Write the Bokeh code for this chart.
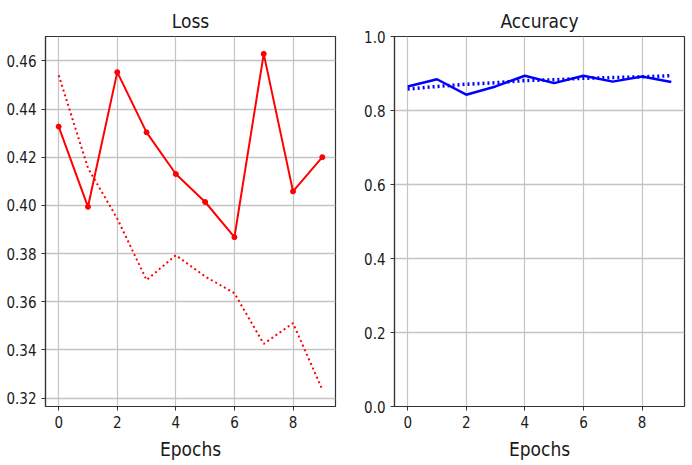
from bokeh.plotting import figure
from bokeh.layouts import row
from bokeh.models import Range1d, FixedTicker
from bokeh.embed import file_html
from bokeh.resources import INLINE

# ---- data ----
epochs = [0, 1, 2, 3, 4, 5, 6, 7, 8, 9]
loss_solid = [0.4327, 0.3994, 0.4553, 0.4303, 0.4130, 0.4014, 0.3868, 0.4629, 0.4058, 0.4200]
loss_dotted = [0.4540, 0.4155, 0.3945, 0.3690, 0.3793, 0.3705, 0.3635, 0.3425, 0.3511, 0.3235]
acc_solid = [0.865, 0.8845, 0.8427, 0.865, 0.894, 0.874, 0.894, 0.878, 0.892, 0.877]
acc_dotted = [0.858, 0.865, 0.871, 0.875, 0.881, 0.883, 0.887, 0.889, 0.891, 0.894]

x_ticks = [0, 2, 4, 6, 8]
x_tick_labels = ["0", "2", "4", "6", "8"]
loss_yticks = [0.32, 0.34, 0.36, 0.38, 0.40, 0.42, 0.44, 0.46]
loss_ytick_labels = ["0.32", "0.34", "0.36", "0.38", "0.40", "0.42", "0.44", "0.46"]
acc_yticks = [0.0, 0.2, 0.4, 0.6, 0.8, 1.0]
acc_ytick_labels = ["0.0", "0.2", "0.4", "0.6", "0.8", "1.0"]

titles = ["Loss", "Accuracy"]
xlabel = "Epochs"

FONT = "'DejaVu Sans Condensed', 'Liberation Sans', sans-serif"
TEXT = "#1a1a1a"


def style(p, title, yticks, ylabels):
    p.title.text = title
    p.title.text_font = FONT
    p.title.text_font_size = "19px"
    p.title.text_font_style = "normal"
    p.title.text_color = TEXT
    p.title.align = "center"
    p.title.standoff = 9
    p.outline_line_color = "#333333"
    p.outline_line_width = 1.2
    for ax in (p.xaxis[0], p.yaxis[0]):
        ax.major_label_text_font = FONT
        ax.major_label_text_font_size = "15px"
        ax.major_label_text_color = TEXT
        ax.major_tick_in = 0
        ax.major_tick_out = 4
        ax.major_tick_line_color = "#333333"
        ax.minor_tick_line_color = None
        ax.axis_line_color = "#333333"
        ax.axis_line_width = 1.2
        ax.major_label_standoff = 5
    p.xaxis[0].ticker = FixedTicker(ticks=x_ticks)
    p.xaxis[0].major_label_overrides = {t: l for t, l in zip(x_ticks, x_tick_labels)}
    p.yaxis[0].ticker = FixedTicker(ticks=yticks)
    p.yaxis[0].major_label_overrides = {t: l for t, l in zip(yticks, ylabels)}
    p.xaxis[0].axis_label = xlabel
    p.xaxis[0].axis_label_text_font = FONT
    p.xaxis[0].axis_label_text_font_size = "19px"
    p.xaxis[0].axis_label_text_font_style = "normal"
    p.xaxis[0].axis_label_text_color = TEXT
    p.xaxis[0].axis_label_standoff = 7
    p.xgrid.grid_line_color = "#c4c4c4"
    p.xgrid.grid_line_width = 1.2
    p.ygrid.grid_line_color = "#c4c4c4"
    p.ygrid.grid_line_width = 1.5
    p.xgrid.ticker = FixedTicker(ticks=x_ticks)
    p.ygrid.ticker = FixedTicker(ticks=yticks)
    p.background_fill_color = "white"
    p.border_fill_color = "white"


p1 = figure(width=345, height=462, output_backend="svg", toolbar_location=None,
            x_range=Range1d(-0.45, 9.45), y_range=Range1d(0.3165, 0.4701),
            min_border_left=45, min_border_right=10, min_border_top=36, min_border_bottom=56)
style(p1, titles[0], loss_yticks, loss_ytick_labels)
p1.line(epochs, loss_dotted, line_color="#ff0000", line_width=2, line_dash="2 3")
p1.line(epochs, loss_solid, line_color="#ff0000", line_width=2)
p1.scatter(epochs, loss_solid, size=5, marker="circle", fill_color="#ff0000", line_color="#ff0000")

p2 = figure(width=345, height=462, output_backend="svg", toolbar_location=None,
            x_range=Range1d(-0.45, 9.45), y_range=Range1d(0.0, 1.0),
            min_border_left=49, min_border_right=6, min_border_top=36, min_border_bottom=56)
style(p2, titles[1], acc_yticks, acc_ytick_labels)
p2.line(epochs, acc_dotted, line_color="#0000ff", line_width=3.5, line_dash="2 3")
p2.line(epochs, acc_solid, line_color="#0000ff", line_width=2.5)

layout = row(p1, p2)
open("out.html", "w").write(file_html(layout, INLINE))
